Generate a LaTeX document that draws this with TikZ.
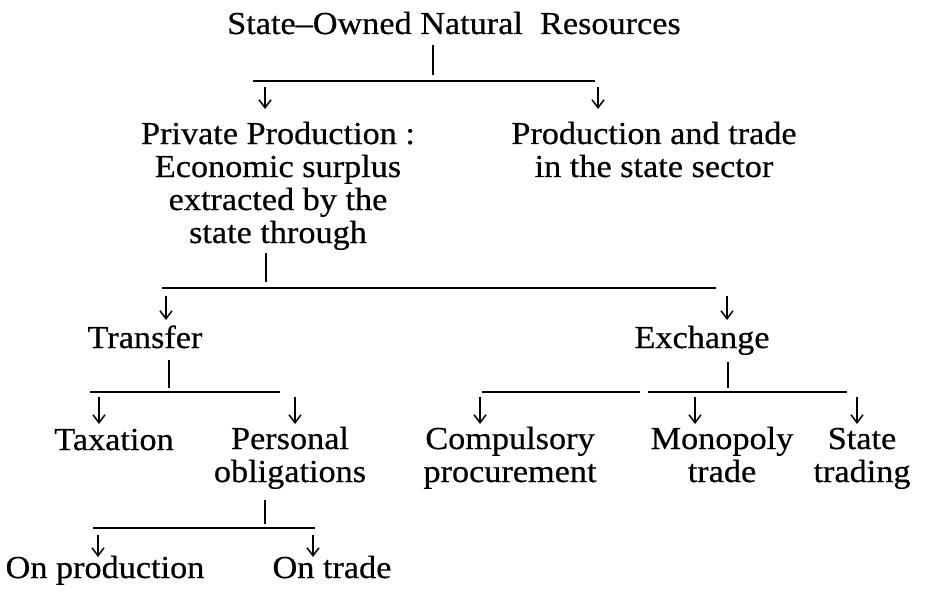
\documentclass[tikz,border=0pt]{standalone}
\usepackage{fontspec}
\setmainfont{Liberation Serif}[FakeStretch=1.07,FakeBold=0.5]
\usetikzlibrary{arrows.meta}
\begin{document}
\begin{tikzpicture}[x=1pt,y=-1pt,
  txt/.style={font=\fontsize{32}{33}\selectfont, inner sep=0pt, anchor=base, align=center},
  hline/.style={line width=2.4pt},
  tick/.style={line width=1.9pt},
  arr/.style={line width=1.5pt, -{Straight Barb[length=8pt,width=12pt]}}]
\useasboundingbox (0,0) rectangle (928,596);

% texts (anchor base = baseline of the last line)
\node[txt] (root) at (454,34) {State–Owned Natural\ \ Resources};
\node[txt] (priv) at (278,243) {Private Production :\\Economic surplus\\extracted by the\\state through};
\node[txt] (sect) at (654,177) {Production and trade\\in the state sector};
\node[txt] (trans) at (145,348) {Transfer};
\node[txt] (exch) at (702,348) {Exchange};
\node[txt] (tax) at (114,450) {Taxation};
\node[txt] (pers) at (290,482) {Personal\\obligations};
\node[txt] (comp) at (510,482) {Compulsory\\procurement};
\node[txt] (mono) at (722,482) {Monopoly\\trade};
\node[txt] (strad) at (862,482) {State\\trading};
\node[txt] (onprod) at (105,578) {On production};
\node[txt] (ontrade) at (332,578) {On trade};

% level 1
\coordinate (r1) at (433,45); \coordinate (r2) at (433,75);
\coordinate (h1a) at (253,81); \coordinate (h1b) at (595,81);
\coordinate (a1s) at (265,87); \coordinate (a1e) at (265,109);
\coordinate (a2s) at (598,87); \coordinate (a2e) at (598,109);
\draw[tick] (r1) -- (r2);
\draw[hline] (h1a) -- (h1b);
\draw[arr] (a1s) -- (a1e);
\draw[arr] (a2s) -- (a2e);

% level 2
\coordinate (p1) at (266,253); \coordinate (p2) at (266,282);
\coordinate (h2a) at (162,288); \coordinate (h2b) at (716,288);
\coordinate (b1s) at (166,296); \coordinate (b1e) at (166,320);
\coordinate (b2s) at (727,296); \coordinate (b2e) at (727,320);
\draw[tick] (p1) -- (p2);
\draw[hline] (h2a) -- (h2b);
\draw[arr] (b1s) -- (b1e);
\draw[arr] (b2s) -- (b2e);

% level 3 left
\coordinate (t1) at (169,360); \coordinate (t2) at (169,388);
\coordinate (h3a) at (90,392); \coordinate (h3b) at (280,392);
\coordinate (c1s) at (99,397); \coordinate (c1e) at (99,424);
\coordinate (c2s) at (295,397); \coordinate (c2e) at (295,424);
\draw[tick] (t1) -- (t2);
\draw[hline] (h3a) -- (h3b);
\draw[arr] (c1s) -- (c1e);
\draw[arr] (c2s) -- (c2e);

% level 3 right
\coordinate (e1) at (728,362); \coordinate (e2) at (728,388);
\coordinate (h4a) at (482,392); \coordinate (h4b) at (640,392);
\coordinate (h4c) at (648,392); \coordinate (h4d) at (847,392);
\coordinate (d1s) at (480,397); \coordinate (d1e) at (480,424);
\coordinate (d2s) at (695,397); \coordinate (d2e) at (695,424);
\coordinate (d3s) at (857,397); \coordinate (d3e) at (857,424);
\draw[tick] (e1) -- (e2);
\draw[hline] (h4a) -- (h4b);
\draw[hline] (h4c) -- (h4d);
\draw[arr] (d1s) -- (d1e);
\draw[arr] (d2s) -- (d2e);
\draw[arr] (d3s) -- (d3e);

% level 4
\coordinate (o1) at (265,500); \coordinate (o2) at (265,524);
\coordinate (h5a) at (93,528); \coordinate (h5b) at (315,528);
\coordinate (f1s) at (98,535); \coordinate (f1e) at (98,557);
\coordinate (f2s) at (313,535); \coordinate (f2e) at (313,557);
\draw[tick] (o1) -- (o2);
\draw[hline] (h5a) -- (h5b);
\draw[arr] (f1s) -- (f1e);
\draw[arr] (f2s) -- (f2e);
\end{tikzpicture}
\end{document}
